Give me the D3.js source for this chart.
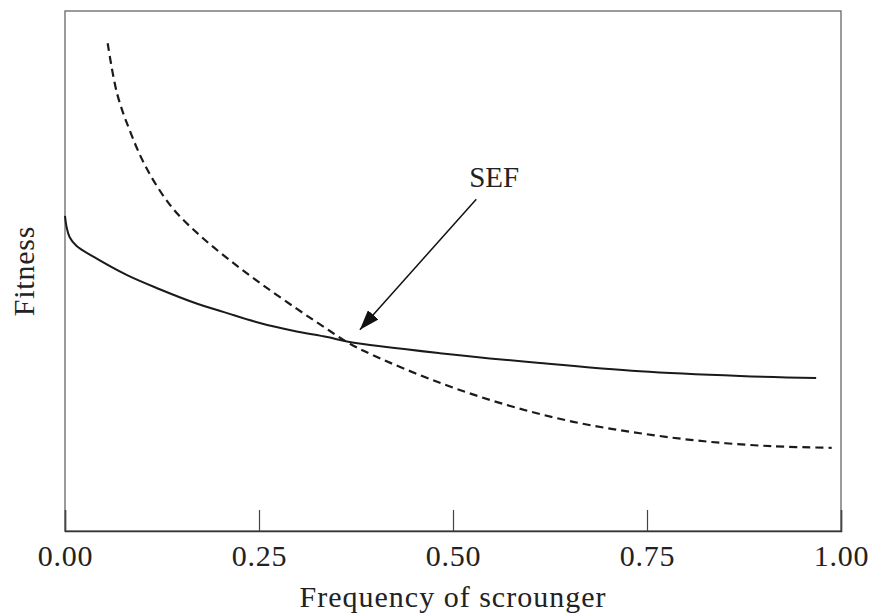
<!DOCTYPE html>
<html>
<head>
<meta charset="utf-8">
<script src="https://cdn.jsdelivr.net/npm/d3@7"></script>
<style>
  body { margin: 0; background: #ffffff; }
  svg text { font-family: "Liberation Serif", "DejaVu Serif", serif; fill: #222; }
</style>
</head>
<body>
<div id="chart"></div>
<script>
// Frequency of scrounger (x) and fitness (arbitrary units, y)
const producerFreq = [0.000, 0.002, 0.006, 0.015, 0.036, 0.080, 0.122, 0.165, 0.209, 0.251, 0.294, 0.338, 0.365, 0.483, 0.612, 0.741, 0.870, 0.968];
const producerFit  = [6.06, 5.85, 5.65, 5.48, 5.28, 4.92, 4.65, 4.40, 4.19, 4.00, 3.85, 3.73, 3.64, 3.42, 3.23, 3.07, 2.98, 2.94];

const scroungerFreq = [0.055, 0.067, 0.084, 0.106, 0.138, 0.174, 0.213, 0.255, 0.299, 0.332, 0.365, 0.397, 0.483, 0.570, 0.655, 0.741, 0.827, 0.912, 0.988];
const scroungerFit  = [9.38, 8.42, 7.68, 6.95, 6.22, 5.68, 5.20, 4.73, 4.27, 3.94, 3.62, 3.38, 2.85, 2.42, 2.10, 1.88, 1.72, 1.63, 1.60];

const xTicks = [0, 0.25, 0.5, 0.75, 1];

// SEF annotation: label position, arrow tail and tip in data units
const sefLabel = { f: 0.553, v: 6.62, text: 'SEF' };
const sefArrow = { f0: 0.530, v0: 6.38, f1: 0.380, v1: 3.87 };

const width = 874, height = 614;
const margin = { top: 11, right: 33, bottom: 83, left: 65 };
const innerW = width - margin.left - margin.right;
const innerH = height - margin.top - margin.bottom;

const svg = d3.select('#chart').append('svg')
  .attr('width', width)
  .attr('height', height);

const g = svg.append('g')
  .attr('transform', `translate(${margin.left},${margin.top})`);

const x = d3.scaleLinear().domain([0, 1]).range([0, innerW]);
const y = d3.scaleLinear().domain([0, 10]).range([innerH, 0]);

// Frame
g.append('rect')
  .attr('x', 0).attr('y', 0)
  .attr('width', innerW).attr('height', innerH)
  .attr('fill', 'none')
  .attr('stroke', '#666')
  .attr('stroke-width', 1.3);

// X axis with inward ticks
const xAxis = g.append('g')
  .attr('transform', `translate(0,${innerH})`)
  .call(d3.axisBottom(x)
    .tickValues(xTicks)
    .tickSize(-21)
    .tickPadding(14)
    .tickFormat(d3.format('.2f')));

xAxis.select('.domain')
  .attr('stroke', '#333')
  .attr('stroke-width', 1.5);
xAxis.selectAll('.tick line')
  .attr('stroke', '#444')
  .attr('stroke-width', 1.2);
xAxis.selectAll('.tick text')
  .attr('font-size', '30px')
  .attr('letter-spacing', '0.8px')
  .attr('font-family', '"Liberation Serif", serif')
  .attr('fill', '#222');

// Axis titles
svg.append('text')
  .attr('x', margin.left + innerW / 2)
  .attr('y', 607)
  .attr('text-anchor', 'middle')
  .attr('font-size', '30px')
  .attr('letter-spacing', '1px')
  .text('Frequency of scrounger');

svg.append('text')
  .attr('transform', `translate(34,${margin.top + innerH / 2}) rotate(-90)`)
  .attr('text-anchor', 'middle')
  .attr('font-size', '30px')
  .attr('letter-spacing', '0.8px')
  .text('Fitness');

const line = d3.line()
  .x(d => x(d[0]))
  .y(d => y(d[1]))
  .curve(d3.curveCatmullRom.alpha(0.5));

// Producer payoff (solid)
g.append('path')
  .datum(producerFreq.map((f, i) => [f, producerFit[i]]))
  .attr('d', line)
  .attr('fill', 'none')
  .attr('stroke', '#1a1a1a')
  .attr('stroke-width', 2);

// Scrounger payoff (dashed)
g.append('path')
  .datum(scroungerFreq.map((f, i) => [f, scroungerFit[i]]))
  .attr('d', line)
  .attr('fill', 'none')
  .attr('stroke', '#1a1a1a')
  .attr('stroke-width', 2.2)
  .attr('stroke-dasharray', '8,5');

// Arrowhead marker
svg.append('defs').append('marker')
  .attr('id', 'arrow')
  .attr('viewBox', '0 0 20 14')
  .attr('refX', 20).attr('refY', 7)
  .attr('markerWidth', 20).attr('markerHeight', 14)
  .attr('markerUnits', 'userSpaceOnUse')
  .attr('orient', 'auto')
  .append('path')
  .attr('d', 'M0,0 L20,7 L0,14 Z')
  .attr('fill', '#111');

g.append('line')
  .attr('x1', x(sefArrow.f0)).attr('y1', y(sefArrow.v0))
  .attr('x2', x(sefArrow.f1)).attr('y2', y(sefArrow.v1))
  .attr('stroke', '#111')
  .attr('stroke-width', 1.5)
  .attr('marker-end', 'url(#arrow)');

g.append('text')
  .attr('x', x(sefLabel.f))
  .attr('y', y(sefLabel.v))
  .attr('text-anchor', 'middle')
  .attr('font-size', '29px')
  .text(sefLabel.text);
</script>
</body>
</html>
